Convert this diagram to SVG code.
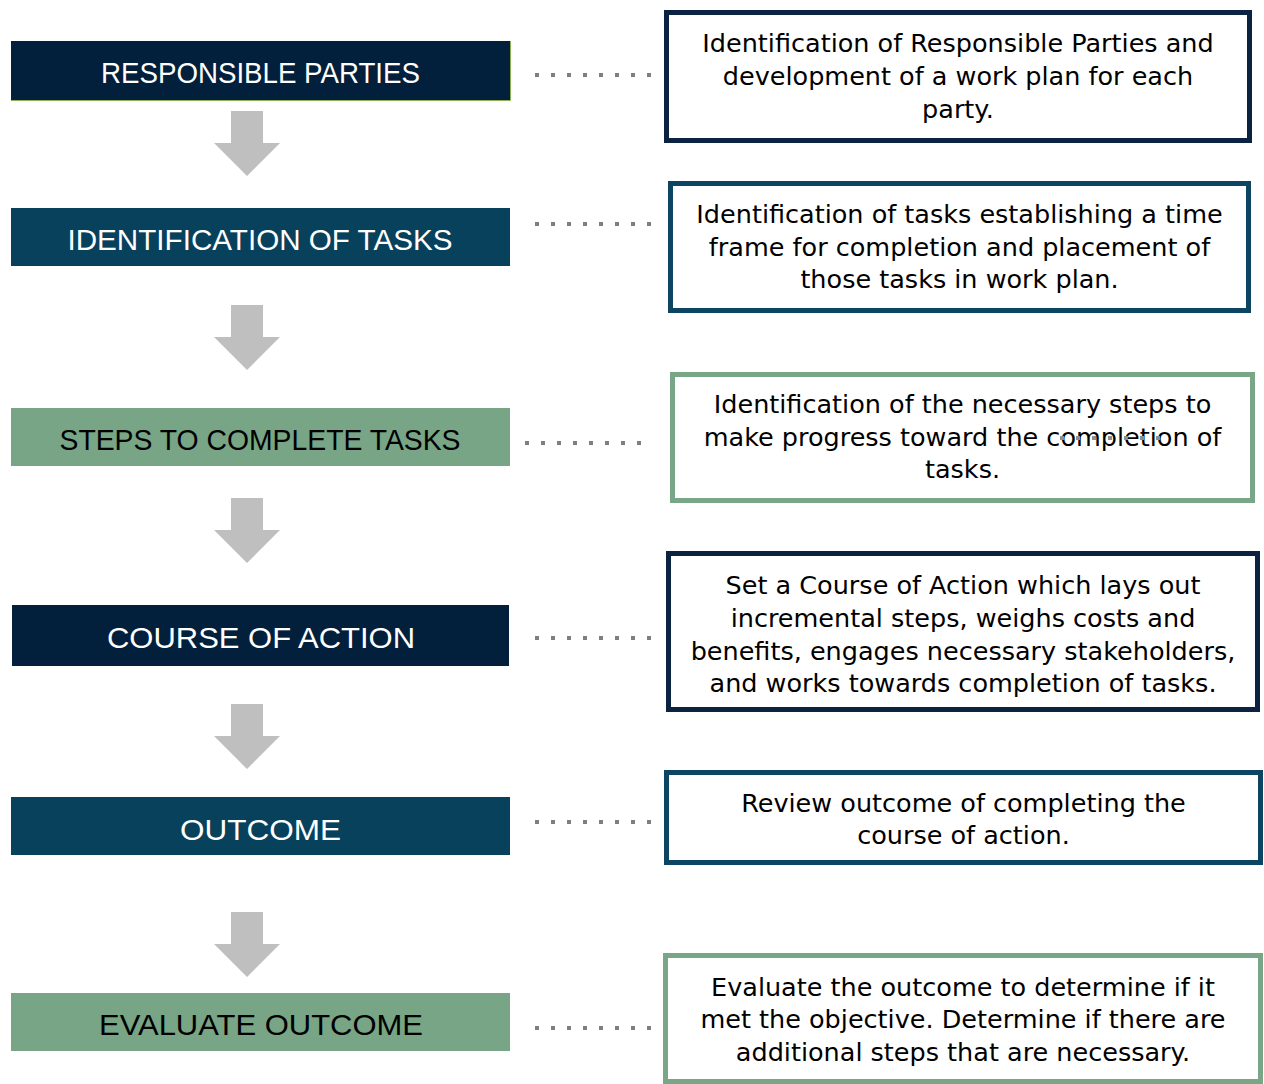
<svg xmlns="http://www.w3.org/2000/svg" width="1264" height="1084" viewBox="0 0 1264 1084">
<style>
.hdr{font-family:"Liberation Sans",Arial,sans-serif;font-size:30px;text-anchor:middle}
.lt{fill:#ffffff}
.dk{fill:#000000}
.navy{fill:#021f3b}
.teal{fill:#08415c}
.green{fill:#77a585}
.desc{fill:#ffffff;stroke-width:5}
.sn{stroke:#0b2341}
.st{stroke:#0c4561}
.sg{stroke:#78a686}
.body{font-family:"DejaVu Sans","Liberation Sans",sans-serif;font-size:25.5px;fill:#000000;text-anchor:middle}
.arrow{fill:#bfbfbf}
.dots{stroke:#7f7f7f;stroke-width:4;stroke-dasharray:4 12;fill:none}
</style>
<rect width="1264" height="1084" fill="#ffffff"/>
<g id="step1">
<rect class="navy" x="11" y="41" width="499" height="59"/>
<polyline points="11,100.5 510.5,100.5 510.5,41" fill="none" stroke="#8db152" stroke-width="1"/>
<text class="hdr lt" x="260.5" y="83" textLength="319" lengthAdjust="spacingAndGlyphs">RESPONSIBLE PARTIES</text>
</g>
<g id="step2">
<rect class="teal" x="11" y="208" width="499" height="58"/>
<text class="hdr lt" x="260" y="249.5" textLength="385" lengthAdjust="spacingAndGlyphs">IDENTIFICATION OF TASKS</text>
</g>
<g id="step3">
<rect class="green" x="11" y="408" width="499" height="58"/>
<text class="hdr dk" x="260" y="449.5" textLength="401" lengthAdjust="spacingAndGlyphs">STEPS TO COMPLETE TASKS</text>
</g>
<g id="step4">
<rect class="navy" x="12" y="605" width="497" height="61"/>
<text class="hdr lt" x="261" y="648" textLength="308" lengthAdjust="spacingAndGlyphs">COURSE OF ACTION</text>
</g>
<g id="step5">
<rect class="teal" x="11" y="797" width="499" height="58"/>
<text class="hdr lt" x="260.5" y="839.5" textLength="161" lengthAdjust="spacingAndGlyphs">OUTCOME</text>
</g>
<g id="step6">
<rect class="green" x="11" y="993" width="499" height="58"/>
<text class="hdr dk" x="261" y="1035" textLength="324" lengthAdjust="spacingAndGlyphs">EVALUATE OUTCOME</text>
</g>
<g id="desc1">
<rect class="desc sn" x="666.5" y="12.5" width="583" height="128"/>
<text class="body" x="958" y="52">Identification of Responsible Parties and</text>
<text class="body" x="958" y="85">development of a work plan for each</text>
<text class="body" x="958" y="118">party.</text>
</g>
<g id="desc2">
<rect class="desc st" x="670.5" y="183.5" width="578" height="127"/>
<text class="body" x="959.5" y="223">Identification of tasks establishing a time</text>
<text class="body" x="959.5" y="256">frame for completion and placement of</text>
<text class="body" x="959.5" y="288">those tasks in work plan.</text>
</g>
<g id="desc3">
<rect class="desc sg" x="672.5" y="374.5" width="580" height="126"/>
<text class="body" x="962.5" y="413">Identification of the necessary steps to</text>
<text class="body" x="962.5" y="446">make progress toward the completion of</text>
<text class="body" x="962.5" y="478">tasks.</text>
</g>
<g id="desc4">
<rect class="desc sn" x="668.5" y="553.5" width="589" height="156"/>
<text class="body" x="963" y="594">Set a Course of Action which lays out</text>
<text class="body" x="963" y="627">incremental steps, weighs costs and</text>
<text class="body" x="963" y="660">benefits, engages necessary stakeholders,</text>
<text class="body" x="963" y="692">and works towards completion of tasks.</text>
</g>
<g id="desc5">
<rect class="desc st" x="666.5" y="772.5" width="594" height="90"/>
<text class="body" x="963.5" y="812">Review outcome of completing the</text>
<text class="body" x="963.5" y="844">course of action.</text>
</g>
<g id="desc6">
<rect class="desc sg" x="665.5" y="955.5" width="595" height="126"/>
<text class="body" x="963" y="996">Evaluate the outcome to determine if it</text>
<text class="body" x="963" y="1028">met the objective. Determine if there are</text>
<text class="body" x="963" y="1061">additional steps that are necessary.</text>
</g>
<g id="connectors">
<polygon class="arrow" points="231,111 263,111 263,143 280,143 247,176 214,143 231,143"/>
<polygon class="arrow" points="231,305 263,305 263,337 280,337 247,370 214,337 231,337"/>
<polygon class="arrow" points="231,498 263,498 263,530 280,530 247,563 214,530 231,530"/>
<polygon class="arrow" points="231,704 263,704 263,736 280,736 247,769 214,736 231,736"/>
<polygon class="arrow" points="231,912 263,912 263,944 280,944 247,977 214,944 231,944"/>
<line class="dots" x1="535" y1="75" x2="651" y2="75"/>
<line class="dots" x1="535" y1="224" x2="651" y2="224"/>
<line class="dots" x1="525" y1="443" x2="641" y2="443"/>
<line class="dots" x1="535" y1="638" x2="651" y2="638"/>
<line class="dots" x1="535" y1="822" x2="651" y2="822"/>
<line class="dots" x1="535" y1="1028" x2="651" y2="1028"/>
<line class="dots" x1="1060" y1="438" x2="1164" y2="438" style="stroke:#8f8f8f"/>
</g>
</svg>
